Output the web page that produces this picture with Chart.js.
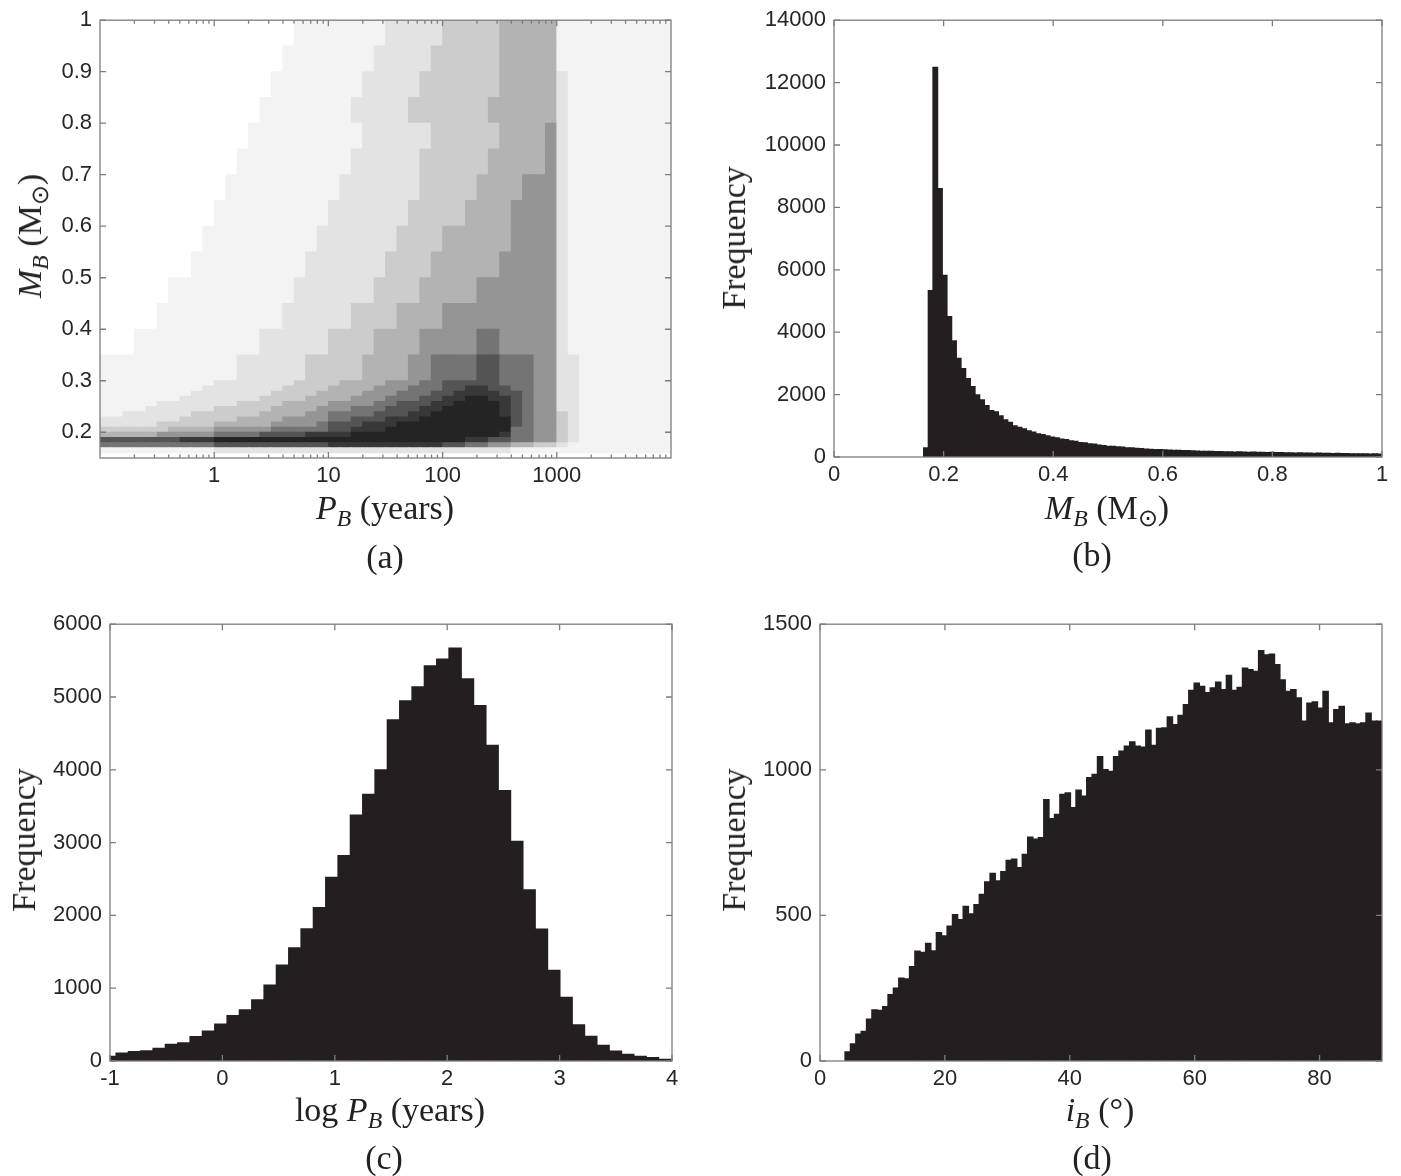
<!DOCTYPE html>
<html><head><meta charset="utf-8">
<script src="https://cdn.jsdelivr.net/npm/chart.js@4.4.1/dist/chart.umd.min.js"></script>
<style>
html,body{margin:0;padding:0;background:#fff;}
body{width:1401px;height:1176px;position:relative;overflow:hidden;}
canvas{position:absolute;}
.t{position:absolute;font-family:'Liberation Serif','Times New Roman',serif;font-size:34px;color:#222;white-space:nowrap;transform:translate(-50%,-50%);line-height:1;}
.r{transform:translate(-50%,-50%) rotate(-90deg);}
.t sub{font-size:0.7em;vertical-align:-0.28em;line-height:0;}
.t i{font-style:italic;}
</style></head>
<body>
<canvas id="ca"></canvas>
<canvas id="cb"></canvas>
<canvas id="cc"></canvas>
<canvas id="cd"></canvas>

<div class="t r" style="left:30px;top:236px;"><i>M</i><sub><i>B</i></sub>&nbsp;(M<sub>⊙</sub>)</div>
<div class="t" style="left:385px;top:508px;"><i>P</i><sub><i>B</i></sub>&nbsp;(years)</div>
<div class="t" style="left:385px;top:557px;">(a)</div>

<div class="t r" style="left:734px;top:238px;">Frequency</div>
<div class="t" style="left:1107px;top:508px;"><i>M</i><sub><i>B</i></sub>&nbsp;(M<sub>⊙</sub>)</div>
<div class="t" style="left:1092px;top:555px;">(b)</div>

<div class="t r" style="left:24px;top:840px;">Frequency</div>
<div class="t" style="left:390px;top:1110px;">log <i>P</i><sub><i>B</i></sub>&nbsp;(years)</div>
<div class="t" style="left:384px;top:1158px;">(c)</div>

<div class="t r" style="left:734px;top:840px;">Frequency</div>
<div class="t" style="left:1100px;top:1110px;"><i>i</i><sub><i>B</i></sub>&nbsp;(°)</div>
<div class="t" style="left:1092px;top:1158px;">(d)</div>

<script>
// ================= DATA =================
// (a) scatter density:
// log10(P_B) column centres, M_B row edges, darkness level 0-9 per cell (rows bottom -> top)
const aLogPColumns = [-0.95,-0.85,-0.75,-0.65,-0.55,-0.45,-0.35,-0.25,-0.15,-0.05,
  0.05,0.15,0.25,0.35,0.45,0.55,0.65,0.75,0.85,0.95,
  1.05,1.15,1.25,1.35,1.45,1.55,1.65,1.75,1.85,1.95,
  2.05,2.15,2.25,2.35,2.45,2.55,2.65,2.75,2.85,2.95,
  3.05,3.15,3.25,3.35,3.45,3.55,3.65,3.75,3.85,3.95];
const aMassEdges = [0.15,0.16,0.17,0.18,0.19,0.20,0.21,0.22,0.23,0.24,0.25,0.26,0.27,0.28,0.29,0.30,
  0.35,0.40,0.45,0.50,0.55,0.60,0.65,0.70,0.75,0.80,0.85,0.90,0.95,1.00];
const aDensityRows = [
  "0000000000|0000000000|0000000000|0000000000|0000000000",
  "1111111111|2222222222|2222222222|2222221111|1111111111",
  "6666666666|7777777777|8888888888|7766554433|2111111111",
  "7777777888|9999999999|9999999999|9988776655|3211111111",
  "4444455555|6666777788|8899999999|9999986655|3211111111",
  "3333334444|5555566666|7788899999|9999996655|3211111111",
  "2222233333|4444455556|7778889999|9999997655|3211111111",
  "2222222333|3344445555|6677788899|9999997655|3211111111",
  "1122222233|3333444455|6666777889|9999987655|3211111111",
  "1111222222|3333344445|5566677788|9999987655|2211111111",
  "1111122222|2233334444|5555667778|8999987655|2211111111",
  "1111111222|2222333344|4455566677|8899887655|2211111111",
  "1111111122|2222233334|4445556667|7888877655|2211111111",
  "1111111112|2222223333|4444555666|7788776655|2211111111",
  "1111111111|2222222333|3444455566|7777766655|2211111111",
  "1111111111|1122222233|3334444556|6667766655|2211111111",
  "0001111111|1111222222|3333444455|5556655555|2111111111",
  "0000011111|1111112222|2233334444|5555555555|2111111111",
  "0000001111|1111111222|2222333344|4445555555|2111111111",
  "0000000011|1111111122|2222233334|4444455555|2111111111",
  "0000000001|1111111112|2222223333|4444445555|2111111111",
  "0000000000|1111111111|2222222333|3344445555|2111111111",
  "0000000000|0111111111|1222222233|3334444555|2111111111",
  "0000000000|0011111111|1122222233|3333444445|2111111111",
  "0000000000|0001111111|1112222223|3333344445|2111111111",
  "0000000000|0000111111|1122222333|3333444444|2111111111",
  "0000000000|0000011111|1112222233|3333344444|2111111111",
  "0000000000|0000001111|1111222223|3333344444|1111111111",
  "0000000000|0000000111|1111122222|3333344444|1111111111"
];
const aXTicks = [1,10,100,1000];
const aXTickLabels = ['1','10','100','1000'];
const aYTicks = [0.2,0.3,0.4,0.5,0.6,0.7,0.8,0.9,1];
const aYTickLabels = ['0.2','0.3','0.4','0.5','0.6','0.7','0.8','0.9','1'];

// (b) histogram of M_B
const bBinStart = 0.1635, bBinWidth = 0.008536;
const bCounts = [290,5330,12490,8600,5820,4500,3720,3160,2830,2510,
 2260,1990,1830,1650,1490,1450,1320,1190,1110,1000,
 950,905,835,795,745,715,680,635,610,575,
 560,520,500,465,450,420,410,380,368,345,
 338,322,315,296,290,275,268,252,248,236,
 240,228,224,214,216,204,208,196,190,185,
 178,180,170,173,166,168,160,163,158,152,
 156,148,150,143,146,139,141,134,136,129,
 131,126,127,120,122,117,118,112,113,106,
 108,102,103,97,99,95,97,94];
const bXTicks = [0,0.2,0.4,0.6,0.8,1];
const bXTickLabels = ['0','0.2','0.4','0.6','0.8','1'];
const bYTicks = [0,2000,4000,6000,8000,10000,12000,14000];
const bYTickLabels = ['0','2000','4000','6000','8000','10000','12000','14000'];

// (c) histogram of log P_B
const cBinStart = -1.056, cBinWidth = 0.1097;
const cCounts = [64,110,130,140,174,229,251,334,412,508,
 622,704,841,1043,1317,1555,1815,2108,2524,2821,
 3379,3663,4001,4687,4947,5139,5427,5519,5670,5249,
 4883,4335,3713,3018,2350,1811,1244,873,498,338,
 215,137,91,64,46,23];
const cXTicks = [-1,0,1,2,3,4];
const cXTickLabels = ['-1','0','1','2','3','4'];
const cYTicks = [0,1000,2000,3000,4000,5000,6000];
const cYTickLabels = ['0','1000','2000','3000','4000','5000','6000'];

// (d) histogram of i_B
const dBinStart = 4.0, dBinWidth = 0.86;
const dCounts = [31,59,92,102,144,176,174,187,228,250,
 285,282,324,377,373,404,378,441,430,463,
 503,486,531,505,537,572,615,644,619,650,
 689,693,664,710,769,762,767,898,832,847,
 916,921,870,930,910,973,984,1045,1001,995,
 1045,1064,1081,1096,1081,1078,1136,1084,1142,1144,
 1182,1155,1187,1224,1273,1298,1287,1265,1281,1301,
 1275,1324,1273,1283,1349,1344,1338,1409,1395,1397,
 1361,1309,1269,1275,1247,1167,1229,1233,1212,1269,
 1161,1207,1218,1158,1161,1158,1161,1195,1167,1167];
const dXTicks = [0,20,40,60,80];
const dXTickLabels = ['0','20','40','60','80'];
const dYTicks = [0,500,1000,1500];
const dYTickLabels = ['0','500','1000','1500'];

// ================= LAYOUT / STYLE =================
const GEOM = {
  a:{L:100,T:19,R:671,B:458},
  b:{L:834,T:19,R:1382,B:457},
  c:{L:110,T:623,R:672,B:1061},
  d:{L:820,T:623,R:1382,B:1061}
};
const PAD = {l:100,t:20,r:20,b:40};
const BAR = '#231f20';
const AXIS = '#7d7d7d';
const LEVEL_ALPHA = [0,0.05,0.12,0.22,0.33,0.46,0.6,0.74,0.86,0.95];

Chart.defaults.animation = false;
Chart.defaults.font.family = "'Liberation Sans', Arial, Helvetica, sans-serif";
Chart.defaults.font.size = 22;
Chart.defaults.color = '#262626';

function place(id, g){
  const cv = document.getElementById(id);
  cv.width = g.R - g.L + PAD.l + PAD.r;
  cv.height = g.B - g.T + PAD.t + PAD.b;
  cv.style.left = (g.L - PAD.l) + 'px';
  cv.style.top = (g.T - PAD.t) + 'px';
  cv.style.width = cv.width + 'px';
  cv.style.height = cv.height + 'px';
  return cv;
}

const boxTicks = {
  id:'boxTicks',
  afterDatasetsDraw(chart, args, o){
    const {ctx, chartArea:a} = chart;
    const xs = chart.scales[o.x], ys = chart.scales[o.y];
    ctx.save();
    ctx.strokeStyle = AXIS; ctx.lineWidth = 1.3;
    ctx.beginPath();
    const L = 6, Lm = 3.5;
    xs.ticks.forEach(t => { const p = xs.getPixelForValue(t.value);
      ctx.moveTo(p, a.bottom); ctx.lineTo(p, a.bottom - L);
      ctx.moveTo(p, a.top); ctx.lineTo(p, a.top + L); });
    (o.minorX || []).forEach(v => { const p = xs.getPixelForValue(v);
      ctx.moveTo(p, a.bottom); ctx.lineTo(p, a.bottom - Lm);
      ctx.moveTo(p, a.top); ctx.lineTo(p, a.top + Lm); });
    ys.ticks.forEach(t => { const p = ys.getPixelForValue(t.value);
      ctx.moveTo(a.left, p); ctx.lineTo(a.left + L, p);
      ctx.moveTo(a.right, p); ctx.lineTo(a.right - L, p); });
    ctx.stroke();
    ctx.strokeRect(a.left, a.top, a.right - a.left, a.bottom - a.top);
    ctx.restore();
  }
};

function axisCfg(type, min, max, ticks, labels, isX){
  return {
    type, min, max, display:true,
    grid:{display:false, drawTicks:false},
    border:{display:false},
    afterBuildTicks: s => { s.ticks = ticks.map(v => ({value:v})); },
    afterFit: s => { if (isX) s.height = PAD.b; else s.width = PAD.l; },
    ticks:{autoSkip:false, maxRotation:0, minRotation:0, padding: isX ? 5 : 8,
      callback:(v,i) => labels[i]}
  };
}

function baseOptions(){
  return {
    responsive:false, maintainAspectRatio:false, devicePixelRatio:1,
    layout:{padding:{left:0, top:PAD.t, right:PAD.r, bottom:0}},
    plugins:{legend:{display:false}, tooltip:{enabled:false}, boxTicks:{x:'x', y:'y'}},
    events:[]
  };
}

function histogram(id, g, start, width, counts, xr, xt, xl, yr, yt, yl){
  const data = counts.map((c,i) => ({x: start + (i + 0.5) * width, y: c}));
  const opts = baseOptions();
  opts.scales = {
    x: Object.assign(axisCfg('linear', xr[0], xr[1], xt, xl, true), {offset:false}),
    y: axisCfg('linear', yr[0], yr[1], yt, yl, false)
  };
  new Chart(place(id, g), {
    type:'bar',
    data:{datasets:[{data, backgroundColor:BAR, borderWidth:0, barPercentage:1, categoryPercentage:1,
      inflateAmount:0.6, clip:0}]},
    options:opts,
    plugins:[boxTicks]
  });
}

// ---------- (a) ----------
(function(){
  const datasets = [];
  for (let r = 0; r < aDensityRows.length; r++){
    const row = aDensityRows[r].replace(/\|/g, '');
    const lo = aMassEdges[r], hi = aMassEdges[r+1];
    const colors = aLogPColumns.map((_, c) => {
      const lv = +row[c];
      if (!lv) return 'rgba(0,0,0,0)';
      const g = Math.round(255 - (255 - 24) * LEVEL_ALPHA[lv]);
      return `rgb(${g},${g},${g})`;
    });
    datasets.push({
      xAxisID:'xc', yAxisID:'y',
      data: aLogPColumns.map(() => [lo, hi]),
      backgroundColor: colors, borderWidth:0, inflateAmount:0.4,
      barPercentage:1, categoryPercentage:1, grouped:false, clip:0
    });
  }
  const minor = [];
  [0.1,1,10,100,1000].forEach(d => { for (let m = 2; m <= 9; m++) minor.push(d*m); });
  const opts = baseOptions();
  opts.plugins.boxTicks = {x:'x', y:'y', minorX:minor};
  opts.scales = {
    xc:{type:'category', display:false, offset:true, grid:{display:false}},
    x: axisCfg('logarithmic', 0.1, 10000, aXTicks, aXTickLabels, true),
    y: axisCfg('linear', 0.15, 1, aYTicks, aYTickLabels, false)
  };
  new Chart(place('ca', GEOM.a), {
    type:'bar',
    data:{labels: aLogPColumns.map(String), datasets},
    options:opts,
    plugins:[boxTicks]
  });
})();

histogram('cb', GEOM.b, bBinStart, bBinWidth, bCounts, [0,1], bXTicks, bXTickLabels, [0,14000], bYTicks, bYTickLabels);
histogram('cc', GEOM.c, cBinStart, cBinWidth, cCounts, [-1,4], cXTicks, cXTickLabels, [0,6000], cYTicks, cYTickLabels);
histogram('cd', GEOM.d, dBinStart, dBinWidth, dCounts, [0,90], dXTicks, dXTickLabels, [0,1500], dYTicks, dYTickLabels);
</script>
</body></html>
